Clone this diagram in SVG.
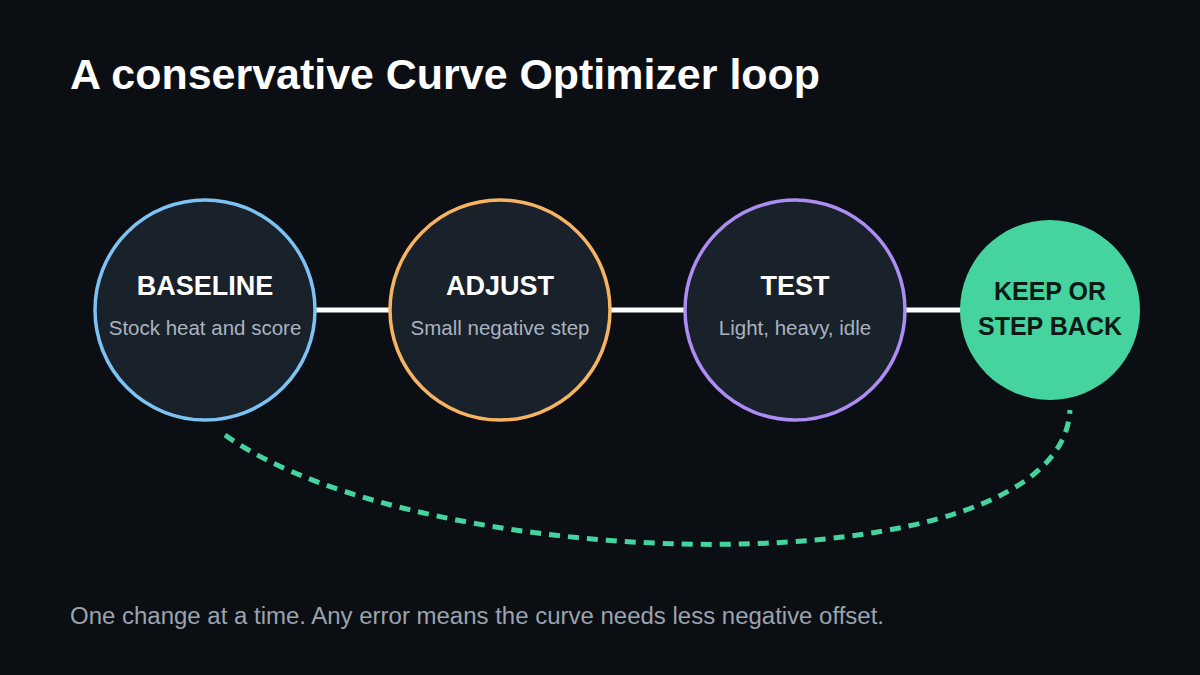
<svg xmlns="http://www.w3.org/2000/svg" width="1200" height="675" viewBox="0 0 1200 675">
<style>
.t{font-family:"Liberation Sans",Arial,sans-serif;font-weight:bold;fill:#ffffff}
.h{font-family:"Liberation Sans",Arial,sans-serif;font-weight:bold;font-size:27px;fill:#ffffff;text-anchor:middle}
.k{font-family:"Liberation Sans",Arial,sans-serif;font-weight:bold;font-size:25px;fill:#0b1a14;text-anchor:middle}
.s{font-family:"Liberation Sans",Arial,sans-serif;font-size:20.5px;fill:#aab3bf;text-anchor:middle}
.ring{fill:#19212b;stroke-width:3.5}
.link{stroke:#ffffff;stroke-width:5}
</style>
<rect width="1200" height="675" fill="#0b0e13"/>
<text class="t" x="70" y="89" font-size="42.5" textLength="750" lengthAdjust="spacingAndGlyphs">A conservative Curve Optimizer loop</text>
<g id="connectors">
<line class="link" x1="314" y1="310" x2="391" y2="310"/>
<line class="link" x1="609" y1="310" x2="686" y2="310"/>
<line class="link" x1="904" y1="310" x2="962" y2="310"/>
<path d="M 225 435 C 420 575, 1060 595, 1070 410" fill="none" stroke="#45d4a0" stroke-width="5" stroke-dasharray="11 8"/>
</g>
<g id="baseline">
<circle class="ring" cx="205" cy="310" r="110" stroke="#7cc2f2"/>
<text class="h" x="205" y="295">BASELINE</text>
<text class="s" x="205" y="335">Stock heat and score</text>
</g>
<g id="adjust">
<circle class="ring" cx="500" cy="310" r="110" stroke="#f6b463"/>
<text class="h" x="500" y="295">ADJUST</text>
<text class="s" x="500" y="335">Small negative step</text>
</g>
<g id="test">
<circle class="ring" cx="795" cy="310" r="110" stroke="#ad8df3"/>
<text class="h" x="795" y="295">TEST</text>
<text class="s" x="795" y="335">Light, heavy, idle</text>
</g>
<g id="keep">
<circle cx="1050" cy="310" r="90" fill="#45d4a0"/>
<text class="k" x="1050" y="300">KEEP OR</text>
<text class="k" x="1050" y="335">STEP BACK</text>
</g>
<text x="70" y="624" font-family="Liberation Sans, Arial, sans-serif" font-size="23.5" fill="#9aa3ae" textLength="814" lengthAdjust="spacingAndGlyphs">One change at a time. Any error means the curve needs less negative offset.</text>
</svg>
